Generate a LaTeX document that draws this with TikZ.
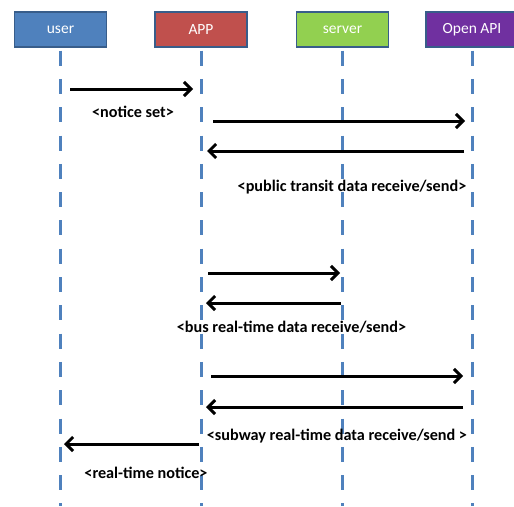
\documentclass[tikz,border=0pt]{standalone}
\usepackage{fontspec}
\setmainfont{Carlito}
\usepackage{xcolor}
\usepackage{tikz}
\usetikzlibrary{arrows.meta, positioning, calc}
\definecolor{userblue}{RGB}{79,129,189}
\definecolor{appred}{RGB}{192,80,77}
\definecolor{srvgreen}{RGB}{146,208,80}
\definecolor{apipurple}{RGB}{112,48,160}
\definecolor{edgeblue}{RGB}{56,93,138}
\tikzset{
  actor/.style = {rectangle, draw=edgeblue, line width=1.2pt, text=white,
                  minimum width=92pt, minimum height=35pt, inner sep=2pt,
                  font=\fontsize{15.5}{17}\selectfont},
  life/.style  = {draw=userblue, line width=3pt,
                  dash pattern=on 15pt off 13.3pt, dash phase=25.3pt},
  arr/.style   = {-{Straight Barb[length=7pt,width=14pt]}, line width=3pt, draw=black},
  lbl/.style   = {font=\bfseries\fontsize{16.2}{18}\selectfont, inner sep=1pt}
}
\begin{document}
\begin{tikzpicture}[x=1pt, y=-1pt]
  \useasboundingbox (0,0) rectangle (514,506);
  % actors
  \node[actor, fill=userblue]  (user)   at (60.5,29.5) {user};
  \node[actor, fill=appred]    (app)    at (201,29.5)  {APP};
  \node[actor, fill=srvgreen]  (server) at (342.5,29.5){server};
  \node[actor, fill=apipurple] (api)    at (472,29.5)  {Open API};
  % lifelines
  \foreach \n in {user,app,server,api}
    \draw[life] (\n.south) -- (\n.south |- 0,506);
  % message ends
  \coordinate (m1a) at (70,89);   \coordinate (m1b) at (193,89);
  \coordinate (m2a) at (213,121); \coordinate (m2b) at (465,121);
  \coordinate (m3a) at (464,151); \coordinate (m3b) at (207,151);
  \coordinate (m4a) at (208,273); \coordinate (m4b) at (340,273);
  \coordinate (m5a) at (341,303); \coordinate (m5b) at (206,303);
  \coordinate (m6a) at (211,376); \coordinate (m6b) at (463,376);
  \coordinate (m7a) at (463,407); \coordinate (m7b) at (206,407);
  \coordinate (m8a) at (199,444); \coordinate (m8b) at (64,444);
  \draw[arr] (m1a)--(m1b); \draw[arr] (m2a)--(m2b); \draw[arr] (m3a)--(m3b);
  \draw[arr] (m4a)--(m4b); \draw[arr] (m5a)--(m5b); \draw[arr] (m6a)--(m6b);
  \draw[arr] (m7a)--(m7b); \draw[arr] (m8a)--(m8b);
  % labels
  \node[lbl] (l1) at (133,112)   {<notice set>};
  \node[lbl] (l2) at (352,187)   {<public transit data receive/send>};
  \node[lbl] (l3) at (291.5,327) {<bus real-time data receive/send>};
  \node[lbl] (l4) at (337,436)   {<subway real-time data receive/send >};
  \node[lbl] (l5) at (146,473)   {<real-time notice>};
\end{tikzpicture}
\end{document}
